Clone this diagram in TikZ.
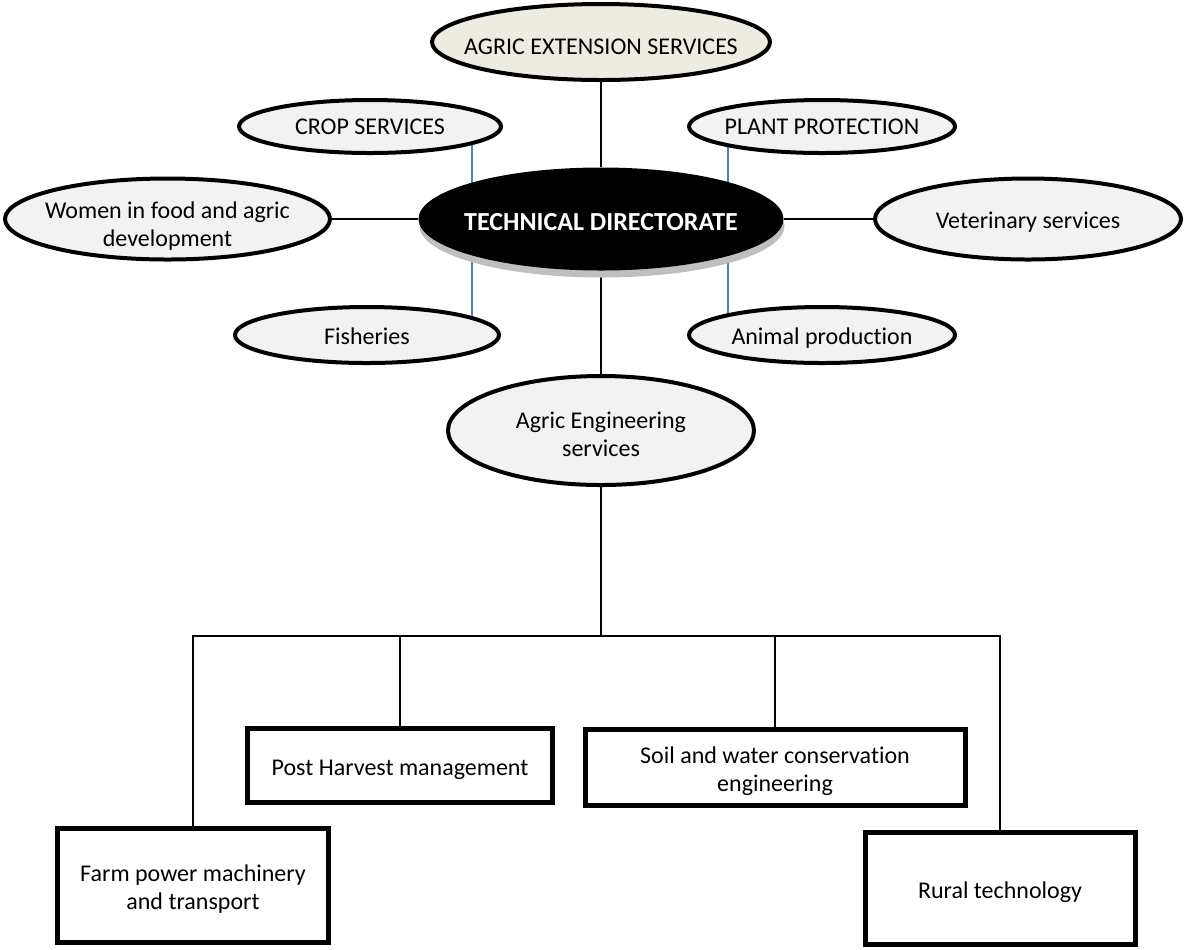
\documentclass[tikz,border=0pt]{standalone}
\usepackage{fontspec}
\setmainfont{Carlito}[RawFeature=-liga]
\usetikzlibrary{shapes.geometric,shadows,backgrounds}
\definecolor{ovalfill}{HTML}{F2F2F2}
\definecolor{extfill}{HTML}{EEECE1}
\definecolor{linkblue}{HTML}{4F81BD}
\definecolor{shadowgray}{HTML}{BFBFBF}
% #1 = downward text shift, #2 = text (zero-size box, so the shape size comes from the minimum sizes)
\newcommand{\ntext}[2]{\makebox[0pt][c]{\raisebox{\dimexpr-3pt-#1\relax}[0pt][0pt]{\begin{tabular}{@{}c@{}}#2\end{tabular}}}}
\begin{document}
\begin{tikzpicture}[x=0.5pt,y=-0.5pt,
  oval/.style={ellipse, draw=black, line width=2pt, fill=ovalfill, inner sep=0pt,
    font=\fontsize{12}{14}\selectfont},
  box/.style={rectangle, draw=black, line width=2.5pt, fill=white, inner sep=0pt,
    font=\fontsize{12}{14}\selectfont},
  link/.style={line width=1pt, draw=black},
  bluelink/.style={line width=1pt, draw=linkblue}]
\useasboundingbox (0,0) rectangle (1186,949);

% ovals
\node[oval, fill=extfill, minimum width=169pt, minimum height=38pt] (ext) at (601,42) {\ntext{3.5pt}{AGRIC EXTENSION SERVICES}};
\node[oval, minimum width=131pt, minimum height=26.5pt] (crop) at (370,126.5) {\ntext{1pt}{CROP SERVICES}};
\node[oval, minimum width=133pt, minimum height=26.5pt] (plant) at (822,126.5) {\ntext{1pt}{PLANT PROTECTION}};
\node[oval, minimum width=162.5pt, minimum height=40.5pt] (women) at (167.5,219) {\ntext{4pt}{Women in food and agric\\development}};
\node[oval, minimum width=153pt, minimum height=40.5pt] (vet) at (1028,219) {\ntext{2pt}{Veterinary services}};
\node[oval, minimum width=132pt, minimum height=28pt] (fish) at (367,335) {\ntext{2pt}{Fisheries}};
\node[oval, minimum width=133pt, minimum height=28pt] (animal) at (822,335) {\ntext{2pt}{Animal production}};
\node[ellipse, fill=black, draw=none, inner sep=0pt, minimum width=182.5pt, minimum height=51.5pt,
  drop shadow={shadow xshift=0.5pt, shadow yshift=-3.5pt, fill=shadowgray, opacity=1},
  text=white, font=\fontsize{13}{15}\selectfont\bfseries] (td) at (601,219) {\ntext{2.5pt}{TECHNICAL DIRECTORATE}};
\node[oval, minimum width=153pt, minimum height=54.5pt] (eng) at (601,430.5) {\ntext{3pt}{Agric Engineering\\services}};

% boxes
\node[box, minimum width=135.5pt, minimum height=57pt] (farm) at (193,885.5) {\ntext{2pt}{Farm power machinery\\and transport}};
\node[box, minimum width=152.5pt, minimum height=37pt] (ph) at (400,765.5) {\ntext{2pt}{Post Harvest management}};
\node[box, minimum width=190pt, minimum height=38pt] (soil) at (775,767.5) {\ntext{2pt}{Soil and water conservation\\engineering}};
\node[box, minimum width=135pt, minimum height=56pt] (rural) at (1000,888.5) {\ntext{2pt}{Rural technology}};

\coordinate (bus) at (601,636);
\coordinate (bl) at (472,0);
\coordinate (br) at (728,0);

\begin{scope}[on background layer]
  \draw[link] (ext) -- (td);
  \draw[link] (women) -- (td);
  \draw[link] (td) -- (vet);
  \draw[link] (td) -- (eng);
  \draw[bluelink] (crop.center -| bl) -- (td.center -| bl);
  \draw[bluelink] (td.center -| bl) -- (fish.center -| bl);
  \draw[bluelink] (plant.center -| br) -- (td.center -| br);
  \draw[bluelink] (td.center -| br) -- (animal.center -| br);
  \draw[link] (eng) -- (bus);
  \draw[link] (farm.north) -- (farm.north |- bus) -- (rural.north |- bus) -- (rural.north);
  \draw[link] (ph.north) -- (ph.north |- bus);
  \draw[link] (soil.north) -- (soil.north |- bus);
\end{scope}
\end{tikzpicture}
\end{document}
